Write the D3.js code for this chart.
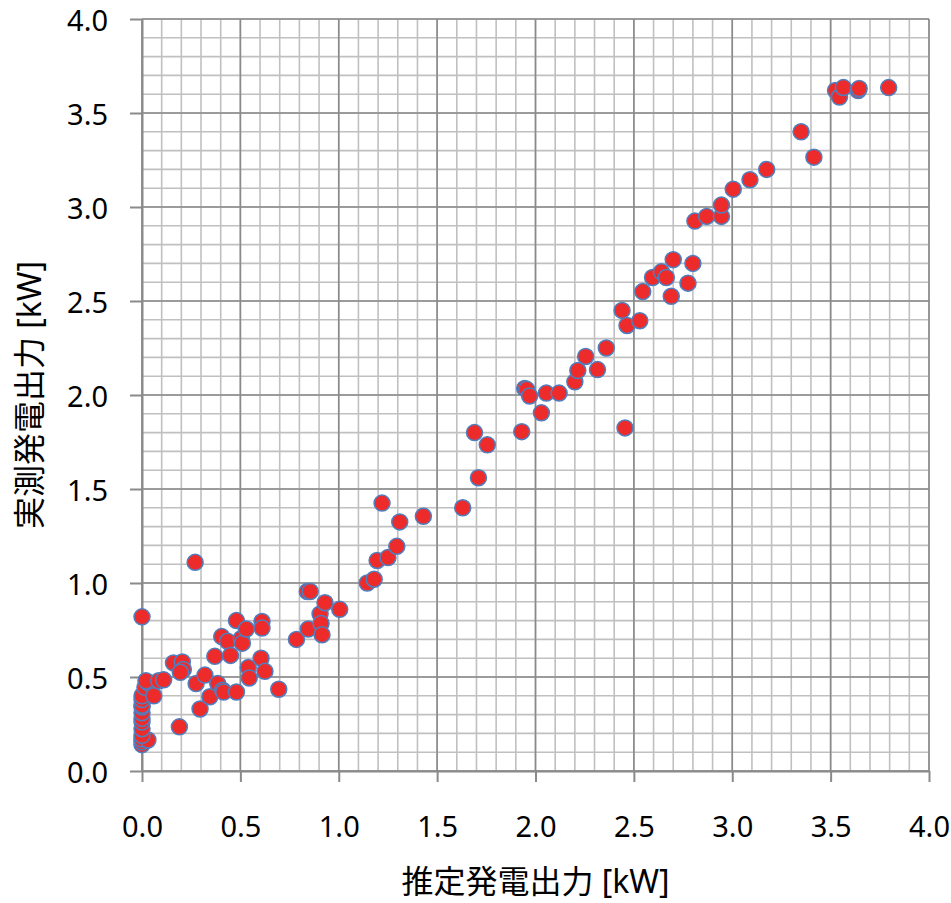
<!DOCTYPE html>
<html>
<head>
<meta charset="utf-8">
<script src="https://cdn.jsdelivr.net/npm/d3@7"></script>
<style>
  html, body { margin: 0; padding: 0; background: #fff; overflow: hidden; }
  svg { display: block; }
  text { font-family: 'Noto Sans', 'Noto Sans CJK JP', sans-serif; fill: #000; }
</style>
</head>
<body>
<div id="chart"></div>
<script>
// estimated output (x) vs measured output (y), kW
const estimatedKw = [
  0.00, 0.00, 0.00, 0.00, 0.03, 0.00, 0.00, 0.00, 0.00, 0.00, 0.00, 0.00, 0.00, 0.00, 0.015, 0.03, 0.02,
  0.06, 0.085, 0.11, 0.16, 0.205, 0.21, 0.195, 0.19,
  0.27, 0.275, 0.295, 0.32, 0.345, 0.37, 0.385, 0.41, 0.415, 0.405, 0.435, 0.45, 0.48, 0.48, 0.505,
  0.51, 0.53, 0.54, 0.545, 0.605, 0.61, 0.61, 0.625, 0.695,
  0.785, 0.845, 0.84, 0.855, 0.905, 0.91, 0.915, 0.93, 1.005,
  1.145, 1.18, 1.195, 1.22, 1.25, 1.295, 1.31, 1.43,
  1.63, 1.69, 1.71, 1.755,
  1.93, 1.945, 1.955, 1.97, 2.03, 2.055, 2.12,
  2.20, 2.215, 2.255, 2.315, 2.36, 2.44, 2.455, 2.465, 2.53, 2.545, 2.595, 2.64, 2.665, 2.69, 2.70,
  2.775, 2.80, 2.81, 2.87, 2.945, 2.945, 3.005, 3.09, 3.175, 3.35, 3.415, 3.525, 3.545, 3.565, 3.64, 3.645, 3.795
];
const measuredKw = [
  0.82, 0.14, 0.155, 0.17, 0.165, 0.19, 0.225, 0.26, 0.28, 0.31, 0.34, 0.35, 0.38, 0.40, 0.445, 0.47, 0.48,
  0.40, 0.48, 0.485, 0.575, 0.58, 0.54, 0.525, 0.235,
  1.11, 0.465, 0.33, 0.51, 0.395, 0.61, 0.465, 0.43, 0.42, 0.715, 0.69, 0.615, 0.42, 0.80, 0.705,
  0.68, 0.755, 0.55, 0.495, 0.60, 0.795, 0.76, 0.53, 0.435,
  0.70, 0.755, 0.955, 0.955, 0.835, 0.785, 0.725, 0.895, 0.86,
  1.00, 1.02, 1.12, 1.425, 1.135, 1.195, 1.325, 1.355,
  1.40, 1.80, 1.56, 1.735,
  1.805, 2.035, 2.03, 1.995, 1.905, 2.01, 2.01,
  2.07, 2.13, 2.205, 2.135, 2.25, 2.45, 1.825, 2.37, 2.395, 2.55, 2.625, 2.655, 2.625, 2.525, 2.72,
  2.595, 2.70, 2.925, 2.95, 2.95, 3.01, 3.095, 3.145, 3.20, 3.40, 3.265, 3.62, 3.585, 3.635, 3.62, 3.63, 3.635
];
const xTickLabels = ['0.0', '0.5', '1.0', '1.5', '2.0', '2.5', '3.0', '3.5', '4.0'];
const yTickLabels = ['0.0', '0.5', '1.0', '1.5', '2.0', '2.5', '3.0', '3.5', '4.0'];
const xTitle = '推定発電出力 [kW]';
const yTitle = '実測発電出力 [kW]';

const width = 951, height = 903;
const margin = { top: 19, right: 22, bottom: 132, left: 142 };
const innerWidth = width - margin.left - margin.right;
const innerHeight = height - margin.top - margin.bottom;

const svg = d3.select('#chart').append('svg')
  .attr('width', width)
  .attr('height', height);

const g = svg.append('g')
  .attr('transform', `translate(${margin.left},${margin.top})`);

const xScale = d3.scaleLinear().domain([0, 4]).range([0, innerWidth]);
const yScale = d3.scaleLinear().domain([0, 4]).range([innerHeight, 0]);

const xTickValues = xTickLabels.map(Number);
const yTickValues = yTickLabels.map(Number);

// minor grid every 0.1
g.append('g').selectAll('line')
  .data(xScale.ticks(40))
  .enter().append('line')
  .attr('x1', d => xScale(d)).attr('x2', d => xScale(d))
  .attr('y1', 0).attr('y2', innerHeight)
  .attr('stroke', '#c0c0c0').attr('stroke-width', 1.6);
g.append('g').selectAll('line')
  .data(yScale.ticks(40))
  .enter().append('line')
  .attr('y1', d => yScale(d)).attr('y2', d => yScale(d))
  .attr('x1', 0).attr('x2', innerWidth)
  .attr('stroke', '#c0c0c0').attr('stroke-width', 1.6);

// major grid every 0.5
g.append('g').selectAll('line')
  .data(xTickValues)
  .enter().append('line')
  .attr('x1', d => xScale(d)).attr('x2', d => xScale(d))
  .attr('y1', 0).attr('y2', innerHeight)
  .attr('stroke', '#8a8a8a').attr('stroke-width', 1.6);
g.append('g').selectAll('line')
  .data(yTickValues)
  .enter().append('line')
  .attr('y1', d => yScale(d)).attr('y2', d => yScale(d))
  .attr('x1', 0).attr('x2', innerWidth)
  .attr('stroke', '#8a8a8a').attr('stroke-width', 1.6);

// axes
const xAxis = g.append('g')
  .attr('transform', `translate(0,${innerHeight})`)
  .call(d3.axisBottom(xScale)
    .tickValues(xTickValues)
    .tickFormat((d, i) => xTickLabels[i])
    .tickSize(11)
    .tickSizeOuter(0));

const yAxis = g.append('g')
  .call(d3.axisLeft(yScale)
    .tickValues(yTickValues)
    .tickFormat((d, i) => yTickLabels[i])
    .tickSize(12)
    .tickSizeOuter(0));

[xAxis, yAxis].forEach(ax => {
  ax.attr('font-size', null).attr('font-family', null);
  ax.select('.domain').attr('stroke', '#8a8a8a').attr('stroke-width', 2);
  ax.selectAll('.tick line').attr('stroke', '#8a8a8a').attr('stroke-width', 2);
  ax.selectAll('.tick text')
    .style('font-family', "'Noto Sans', sans-serif")
    .style('font-size', '29px')
    .attr('fill', '#000');
});
// explicit baselines for tick labels
xAxis.selectAll('.tick text').attr('y', 66).attr('dy', null);
yAxis.selectAll('.tick text').attr('x', -34).attr('y', 11).attr('dy', null);

// points
g.append('g').selectAll('circle')
  .data(estimatedKw.map((x, i) => ({ x: x, y: measuredKw[i] })))
  .enter().append('circle')
  .attr('cx', d => xScale(d.x))
  .attr('cy', d => yScale(d.y))
  .attr('r', 8)
  .attr('fill', '#ee2b2b')
  .attr('stroke', '#4f7fbf')
  .attr('stroke-width', 1.5);

// axis titles
svg.append('text')
  .attr('x', margin.left + innerWidth / 2)
  .attr('y', 893)
  .attr('text-anchor', 'middle')
  .style('font-size', '32px')
  .text(xTitle);

svg.append('text')
  .attr('transform', `translate(41,${margin.top + innerHeight / 2}) rotate(-90)`)
  .attr('text-anchor', 'middle')
  .style('font-size', '32px')
  .text(yTitle);
</script>
</body>
</html>
